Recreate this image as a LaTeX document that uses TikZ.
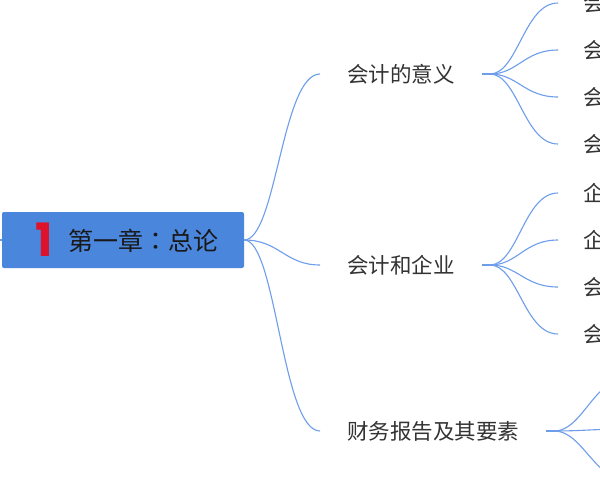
\documentclass[tikz,border=0pt]{standalone}
\usepackage{fontspec}
\setmainfont{Noto Sans CJK SC}
\newfontfamily\rootfont{Noto Sans CJK TC}
\newfontfamily\numfont{Poppins}
\definecolor{rootblue}{RGB}{74,134,220}
\definecolor{linkblue}{RGB}{110,158,235}
\definecolor{txt}{RGB}{51,51,51}
\definecolor{numred}{RGB}{222,18,42}
\begin{document}
\begin{tikzpicture}[x=1pt,y=-1pt,
  conn/.style={draw=linkblue, line width=1.1pt},
  stub/.style={draw=linkblue, line width=2.6pt},
  rootbox/.style={fill=rootblue, rounded corners=2pt, minimum width=242pt, minimum height=56pt, inner sep=0pt},
  branch/.style={font=\fontsize{21.5}{24}\selectfont, text=txt, inner xsep=27pt, inner ysep=3pt, anchor=west},
  leaf/.style={font=\fontsize{21.5}{24}\selectfont, text=txt, inner xsep=25pt, inner ysep=3pt, anchor=west}]
\useasboundingbox (0,0) rectangle (600,480);
\clip (0,0) rectangle (600,480);
\fill[white] (0,0) rectangle (600,480);

% root
\node[rootbox] (root) at (123,240) {};
\coordinate (pin) at (-10,240);
\draw[conn] (pin) -- (root.west);
\node[text=numred, font=\numfont\bfseries\fontsize{46}{46}\selectfont, inner sep=0pt] (num) at (44,240) {1};
\node[anchor=west, text=black!90, font=\rootfont\fontsize{25}{28}\selectfont, inner sep=0pt] (title) at (68,241) {第一章：总论};

% branches
\node[branch] (b1) at (320,74) {会计的意义};
\node[branch] (b2) at (320,265) {会计和企业};
\node[branch] (b3) at (320,431) {财务报告及其要素};

\draw[conn] (root.east) .. controls +(32,0) and +(-38,0) .. (b1.west);
\draw[conn] (root.east) .. controls +(35,0) and +(-35,0) .. (b2.west);
\draw[conn] (root.east) .. controls +(32,0) and +(-38,0) .. (b3.west);

% leaves of b1
\node[leaf] (l11) at (558,3) {会};
\node[leaf] (l12) at (558,50) {会};
\node[leaf] (l13) at (558,97) {会};
\node[leaf] (l14) at (558,144) {会};
% leaves of b2
\node[leaf] (l21) at (558,193) {企};
\node[leaf] (l22) at (558,240) {企};
\node[leaf] (l23) at (558,287) {会};
\node[leaf] (l24) at (558,334) {会};
% free ends of b3
\coordinate (l31) at (628,378);
\coordinate (l32) at (628,429);
\coordinate (l33) at (628,480);

\foreach \b/\ls in {b1/{l11,l12,l13,l14}, b2/{l21,l22,l23,l24}, b3/{l31,l32,l33}}{
  \draw[stub] (\b.east) -- +(10,0);
  \foreach \l in \ls {
    \draw[conn] (\b.east) ++(8,0) .. controls +(28,0) and +(-34,0) .. (\l.west);
  }
}
\end{tikzpicture}
\end{document}
